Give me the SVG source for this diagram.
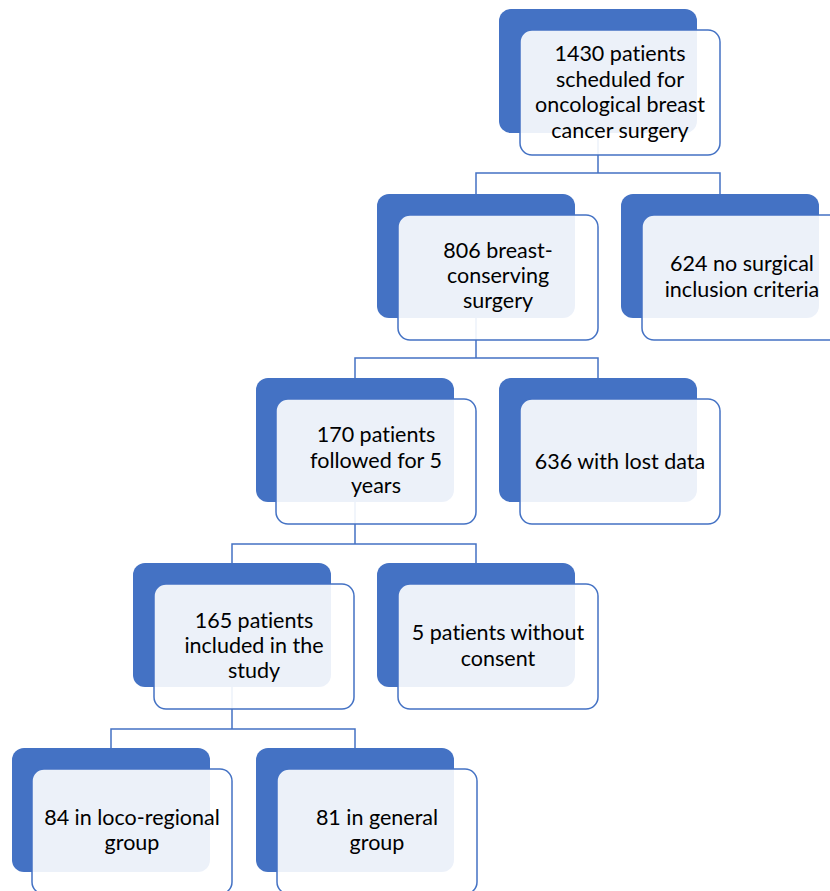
<svg xmlns="http://www.w3.org/2000/svg" width="830" height="891" viewBox="0 0 830 891">
<style>
.back{fill:#4472C4;}
.front{fill:#FFFFFF;fill-opacity:0.9;stroke:#4472C4;stroke-width:1.5;}
.conn{fill:none;stroke:#4472C4;stroke-width:1.5;}
text{font-family:Lato,"Liberation Sans",sans-serif;font-size:21.5px;fill:#000;text-anchor:middle;font-variant-ligatures:none;font-feature-settings:"liga" 0,"dlig" 0;}
</style>
<rect width="830" height="891" fill="#FFFFFF"/>
<g id="backs">
<rect class="back" x="499" y="9" width="198" height="124" rx="12"/>
<rect class="back" x="377" y="194" width="198" height="124" rx="12"/>
<rect class="back" x="621" y="194" width="198" height="124" rx="12"/>
<rect class="back" x="256" y="378" width="198" height="124" rx="12"/>
<rect class="back" x="499" y="378" width="198" height="124" rx="12"/>
<rect class="back" x="133" y="563" width="198" height="124" rx="12"/>
<rect class="back" x="377" y="563" width="198" height="124" rx="12"/>
<rect class="back" x="12" y="748" width="198" height="124" rx="12"/>
<rect class="back" x="256" y="748" width="198" height="124" rx="12"/>
</g>
<g id="connectors">
<path class="conn" d="M598 133 V173 M476 194 V173 H720 V194"/>
<path class="conn" d="M476 318 V358 M355 378 V358 H598 V378"/>
<path class="conn" d="M355 502 V544 M232 563 V544 H476 V563"/>
<path class="conn" d="M232 687 V729 M111 748 V729 H355 V748"/>
</g>
<g id="n1">
<rect class="front" x="520" y="30" width="200" height="125" rx="12"/>
<text x="620" y="61">1430 patients</text>
<text x="620" y="86.5">scheduled for</text>
<text x="620" y="112">oncological breast</text>
<text x="620" y="138">cancer surgery</text>
</g>
<g id="n2">
<rect class="front" x="398" y="215" width="200" height="125" rx="12"/>
<text x="498" y="258">806 breast-</text>
<text x="498" y="283">conserving</text>
<text x="498" y="308">surgery</text>
</g>
<g id="n3">
<rect class="front" x="642" y="215" width="200" height="125" rx="12"/>
<text x="742" y="271">624 no surgical</text>
<text x="742" y="297">inclusion criteria</text>
</g>
<g id="n4">
<rect class="front" x="276" y="399" width="200" height="125" rx="12"/>
<text x="376" y="442">170 patients</text>
<text x="376" y="468">followed for 5</text>
<text x="376" y="493">years</text>
</g>
<g id="n5">
<rect class="front" x="520" y="399" width="200" height="125" rx="12"/>
<text x="620" y="469">636 with lost data</text>
</g>
<g id="n6">
<rect class="front" x="154" y="584" width="200" height="125" rx="12"/>
<text x="254" y="628">165 patients</text>
<text x="254" y="653">included in the</text>
<text x="254" y="678">study</text>
</g>
<g id="n7">
<rect class="front" x="398" y="584" width="200" height="125" rx="12"/>
<text x="498" y="640">5 patients without</text>
<text x="498" y="666">consent</text>
</g>
<g id="n8">
<rect class="front" x="32" y="769" width="200" height="125" rx="12"/>
<text x="132" y="825">84 in loco-regional</text>
<text x="132" y="850">group</text>
</g>
<g id="n9">
<rect class="front" x="277" y="769" width="200" height="125" rx="12"/>
<text x="377" y="825">81 in general</text>
<text x="377" y="850">group</text>
</g>
</svg>
